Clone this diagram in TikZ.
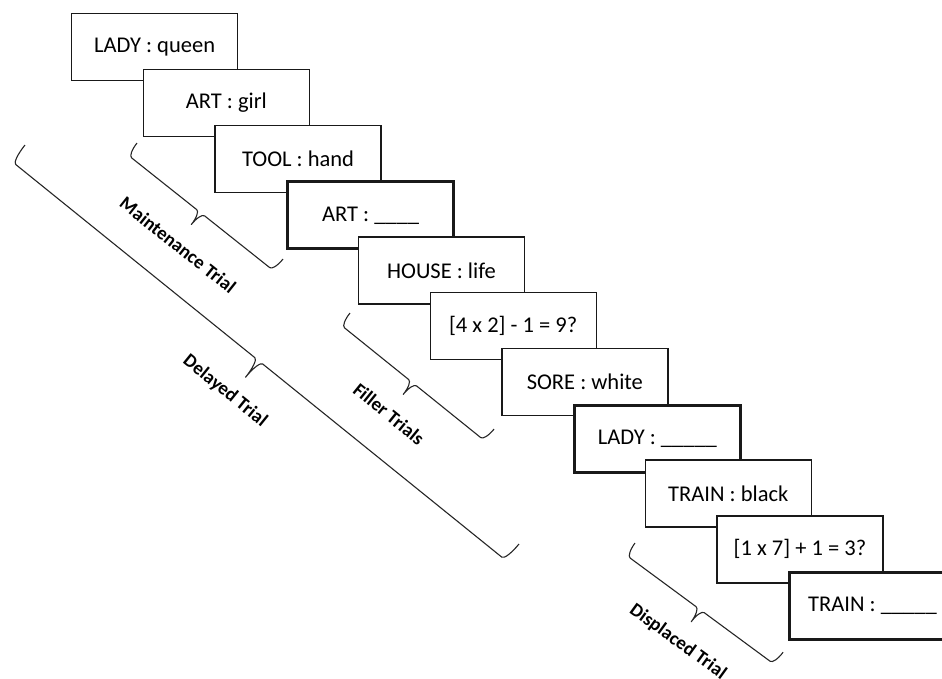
\documentclass[tikz,border=0pt]{standalone}
\usepackage{fontspec}
\setmainfont{Carlito}
\newcommand{\trialbrace}[5]{% tip x, tip y, angle, length, half depth
  \begin{scope}[shift={(#1,-#2)},rotate=-#3]
    \draw[bracestyle] (0,0)
      arc[start angle=180,end angle=270,x radius=5pt,y radius=#5pt]
      -- ({#4/2-5},-#5)
      arc[start angle=90,end angle=0,x radius=5pt,y radius=#5pt]
      arc[start angle=180,end angle=90,x radius=5pt,y radius=#5pt]
      -- ({#4-5},-#5)
      arc[start angle=270,end angle=360,x radius=5pt,y radius=#5pt];
  \end{scope}}
\tikzset{
  card/.style={draw=black!90, line width=1.3pt, fill=white, anchor=north west,
    minimum width=166pt, minimum height=67pt, inner sep=0pt,
    font=\fontsize{22.5}{26}\selectfont},
  probe/.style={card, line width=3pt},
  bracestyle/.style={draw=black!85, line width=1.1pt, line join=round},
  trial/.style={font=\fontsize{19}{22}\selectfont\bfseries, anchor=center}
}
\begin{document}
\begin{tikzpicture}[x=1pt,y=1pt]
\useasboundingbox (0,0) rectangle (942,-678);
\clip (0,0) rectangle (942,-678);
\node[card]  (b1)  at (71,-13)    {LADY : queen};
\node[card]  (b2)  at (142.7,-68.8) {ART : girl};
\node[card]  (b3)  at (214.4,-124.6) {TOOL : hand};
\node[probe] (b4)  at (286.1,-180.4) {ART : \_\_\_\_};
\node[card]  (b5)  at (357.8,-236.2) {HOUSE : life};
\node[card]  (b6)  at (429.5,-292) {[4 x 2] - 1 = 9?};
\node[card]  (b7)  at (501.2,-347.8) {SORE : white};
\node[probe] (b8)  at (572.9,-403.6) {LADY : \_\_\_\_\_};
\node[card]  (b9)  at (644.6,-459.4) {TRAIN : black};
\node[card]  (b10) at (716.3,-515.2) {[1 x 7] + 1 = 3?};
\node[probe] (b11) at (788,-571)   {TRAIN : \_\_\_\_\_};

\trialbrace{137}{143}{38.47}{186.5}{15}
\trialbrace{25}{145}{38.93}{635}{21}
\trialbrace{350}{313}{38.86}{185}{15}
\trialbrace{635}{543}{36.4}{184}{15}

\node[trial, rotate=-38.5] (lm) at (178,-245) {Maintenance Trial};
\node[trial, rotate=-39]   (ld) at (225,-391) {Delayed Trial};
\node[trial, rotate=-39]   (lf) at (389,-414) {Filler Trials};
\node[trial, rotate=-36]   (lp) at (678,-642) {Displaced Trial};
\end{tikzpicture}
\end{document}
